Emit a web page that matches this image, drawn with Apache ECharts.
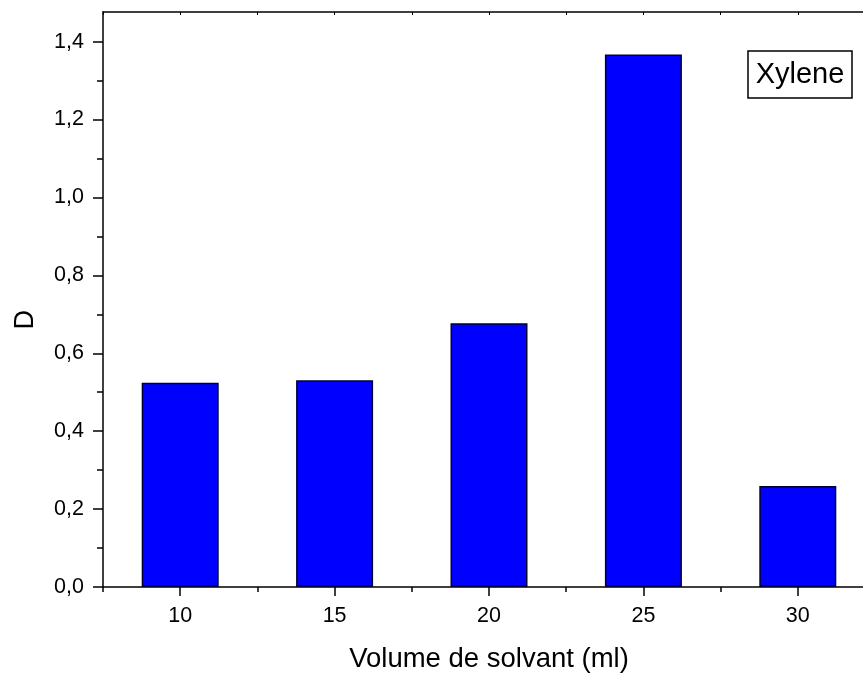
<!DOCTYPE html>
<html>
<head>
    <meta charset="UTF-8">
    <title>Xylene</title>
    <script src="https://cdn.jsdelivr.net/npm/echarts/dist/echarts.min.js"></script>
    <style>
        html, body { margin: 0; padding: 0; background: #fff; }
        #main { width: 863px; height: 675px; }
    </style>
</head>
<body>
    <div id="main"></div>
    <script type="text/javascript">
        // volumes (ml) and D values
        var volumes = [10, 15, 20, 25, 30];
        var dValues = [0.524, 0.531, 0.677, 1.367, 0.259];
        var xMajor = [10, 15, 20, 25, 30];
        var xMinor = [7.5, 12.5, 17.5, 22.5, 27.5, 32.5];
        var yMajor = [0, 0.2, 0.4, 0.6, 0.8, 1.0, 1.2, 1.4];
        var yMinor = [0.1, 0.3, 0.5, 0.7, 0.9, 1.1, 1.3];

        var font = 'Liberation Sans, Arial, sans-serif';
        var chart = echarts.init(document.getElementById('main'));

        var xBase = { type: 'value', min: 7.5, max: 32.5, splitLine: { show: false } };
        var yBase = { type: 'value', min: 0, max: 1.476, splitLine: { show: false } };

        var option = {
            animation: false,
            // plot box runs past the right edge of the picture, as in the original
            grid: { left: 103, top: 12, width: 772, height: 575, outerBoundsMode: 'none', containLabel: false },
            xAxis: [
                Object.assign({}, xBase, {
                    position: 'bottom',
                    name: 'Volume de solvant (ml)',
                    nameLocation: 'middle',
                    nameGap: 58,
                    nameTextStyle: { fontFamily: font, fontSize: 27.5, color: '#000' },
                    axisLine: { lineStyle: { color: '#000', width: 1.5 } },
                    axisTick: { customValues: xMajor, length: 9, lineStyle: { color: '#000', width: 1.5 } },
                    axisLabel: {
                        customValues: xMajor, margin: 18,
                        fontFamily: font, fontSize: 21.5, color: '#000'
                    }
                }),
                Object.assign({}, xBase, {
                    position: 'bottom',
                    axisLine: { show: false },
                    axisTick: { customValues: xMinor, length: 5, lineStyle: { color: '#000', width: 1.5 } },
                    axisLabel: { show: false }
                }),
                Object.assign({}, xBase, {
                    position: 'top',
                    axisLine: { lineStyle: { color: '#000', width: 1.5 } },
                    axisTick: { inside: true, customValues: xMajor.concat(xMinor), length: 3, lineStyle: { color: '#000', width: 1 } },
                    axisLabel: { show: false }
                })
            ],
            yAxis: [
                Object.assign({}, yBase, {
                    position: 'left',
                    axisLine: { show: true, lineStyle: { color: '#000', width: 1.5 } },
                    axisTick: { show: true, customValues: yMajor, length: 10, lineStyle: { color: '#000', width: 1.5 } },
                    axisLabel: {
                        customValues: yMajor, margin: 19,
                        fontFamily: font, fontSize: 21.5, color: '#000',
                        formatter: function (v) { return v.toFixed(1).replace('.', ','); }
                    }
                }),
                Object.assign({}, yBase, {
                    position: 'left',
                    axisLine: { show: false },
                    axisTick: { show: true, customValues: yMinor, length: 6, lineStyle: { color: '#000', width: 1.5 } },
                    axisLabel: { show: false }
                })
            ],
            graphic: [
                {
                    type: 'text', left: 12, top: 310, rotation: Math.PI / 2,
                    style: { text: 'D', font: '27px ' + font, fill: '#000' }
                },
                {
                    type: 'rect',
                    shape: { x: 748, y: 51, width: 104, height: 47 },
                    style: { fill: '#fff', stroke: '#000', lineWidth: 1.5 }
                },
                {
                    type: 'text', x: 800, y: 75,
                    style: { text: 'Xylene', font: '29px ' + font, fill: '#000', align: 'center', verticalAlign: 'middle' }
                }
            ],
            series: [{
                type: 'bar',
                xAxisIndex: 0,
                yAxisIndex: 0,
                barWidth: 77,
                data: volumes.map(function (v, i) { return [v, dValues[i]]; }),
                itemStyle: { color: '#0000ff', borderColor: '#000033', borderWidth: 1.5 }
            }]
        };

        chart.setOption(option);
    </script>
</body>
</html>
